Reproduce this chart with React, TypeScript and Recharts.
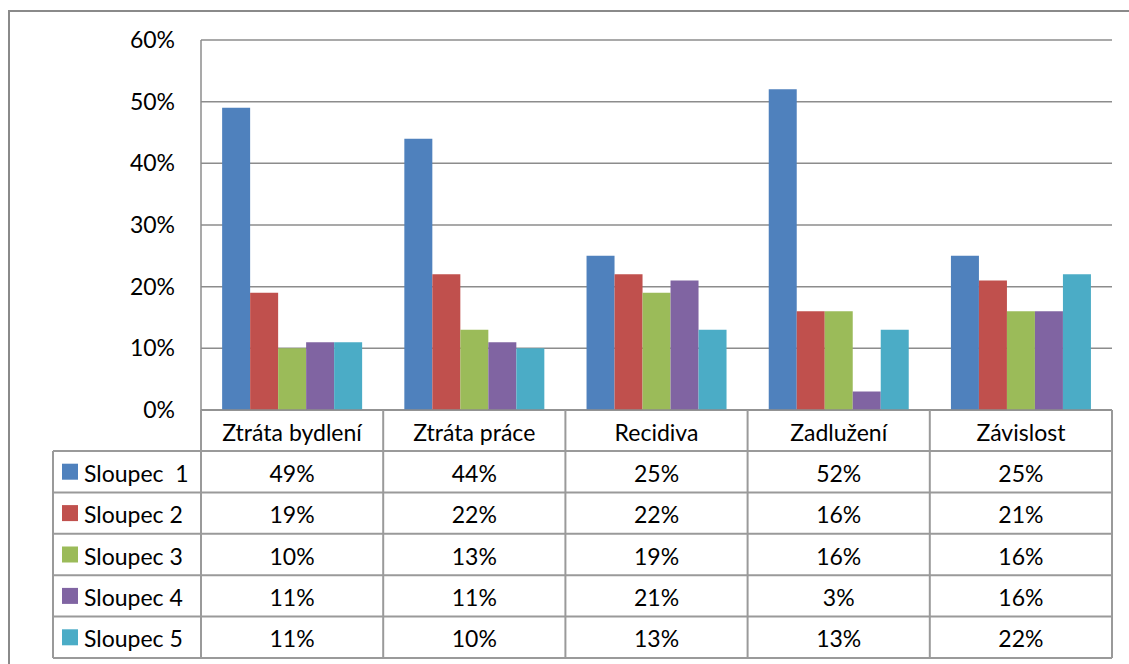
import { BarChart, Bar, XAxis, YAxis, CartesianGrid } from 'recharts'

const categories = ['Ztráta bydlení', 'Ztráta práce', 'Recidiva', 'Zadlužení', 'Závislost']
const seriesNames = ['Sloupec  1', 'Sloupec 2', 'Sloupec 3', 'Sloupec 4', 'Sloupec 5']
const sloupec1 = [49, 44, 25, 52, 25]
const sloupec2 = [19, 22, 22, 16, 21]
const sloupec3 = [10, 13, 19, 16, 16]
const sloupec4 = [11, 11, 21, 3, 16]
const sloupec5 = [11, 10, 13, 13, 22]
const yTicks = [0, 10, 20, 30, 40, 50, 60]

const colors = ['#4F81BD', '#C0504D', '#9BBB59', '#8064A2', '#4BACC6']
const allSeries = [sloupec1, sloupec2, sloupec3, sloupec4, sloupec5]
const keys = ['s1', 's2', 's3', 's4', 's5']

const data = categories.map((name, i) => {
  const row: Record<string, string | number> = { name }
  allSeries.forEach((s, k) => (row[keys[k]] = s[i]))
  return row
})

const W = 1119
const H = 652
const FONT = 'Lato, Carlito, Calibri, sans-serif'
const FS = 23
const plotLeft = 191
const plotRight = 1102
const plotTop = 28
const plotBottom = 398
const headerH = 41
const rowH = 41.4
const tableLeft = 43
const colW = (plotRight - plotLeft) / categories.length
const lineColor = '#9a9a9a'

const HeaderTick = (props: any) => {
  const { x, payload } = props
  return (
    <text x={x} y={plotBottom + headerH / 2 + 1} textAnchor="middle" dominantBaseline="central"
      fontFamily={FONT} fontSize={FS} fill="#000">
      {payload.value}
    </text>
  )
}

function DataTable() {
  const bodyTop = plotBottom + headerH
  const bodyBottom = bodyTop + rowH * seriesNames.length
  const lines = []
  // header verticals
  for (let i = 0; i <= categories.length; i++) {
    const x = plotLeft + i * colW
    lines.push(<line key={'hv' + i} x1={x} x2={x} y1={plotBottom} y2={bodyBottom} stroke={lineColor} strokeWidth={2} />)
  }
  lines.push(<line key="lv" x1={tableLeft} x2={tableLeft} y1={bodyTop} y2={bodyBottom} stroke={lineColor} strokeWidth={2} />)
  for (let r = 0; r <= seriesNames.length; r++) {
    const y = bodyTop + r * rowH
    lines.push(<line key={'h' + r} x1={tableLeft} x2={plotRight} y1={y} y2={y} stroke={lineColor} strokeWidth={2} />)
  }
  return (
    <svg width={W} height={H} style={{ position: 'absolute', left: 0, top: 0, pointerEvents: 'none' }}>
      {lines}
      {seriesNames.map((s, r) => {
        const cy = bodyTop + r * rowH + rowH / 2
        return (
          <g key={s}>
            <rect x={tableLeft + 9} y={cy - 8} width={16} height={16} fill={colors[r]} />
            <text x={tableLeft + 31} y={cy + 1} dominantBaseline="central" fontFamily={FONT} fontSize={FS}
              fill="#000" style={{ whiteSpace: 'pre' }}>
              {s}
            </text>
            {allSeries[r].map((v, c) => (
              <text key={c} x={plotLeft + c * colW + colW / 2} y={cy + 1} textAnchor="middle"
                dominantBaseline="central" fontFamily={FONT} fontSize={FS} fill="#000">
                {v}%
              </text>
            ))}
          </g>
        )
      })}
    </svg>
  )
}

export default function App() {
  return (
    <div>
      <style>{'body{margin:0;overflow:hidden;background:#fff}'}</style>
      <div style={{ position: 'absolute', left: 8, top: 10, width: W + 10, height: H + 10,
        borderLeft: '2px solid #8a8a8a', borderTop: '2px solid #8a8a8a' }}>
        <div style={{ position: 'relative', width: W, height: H }}>
          <BarChart width={W} height={H} data={data} barGap={0} barCategoryGap="11.6%"
            margin={{ top: plotTop, right: W - plotRight, left: plotLeft - 60, bottom: H - plotBottom - headerH }}>
            <CartesianGrid vertical={false} stroke="#8c8c8c" strokeWidth={1.5} />
            <XAxis dataKey="name" height={headerH} axisLine={{ stroke: '#8c8c8c', strokeWidth: 1.5 }}
              tickLine={false} tick={<HeaderTick />} interval={0} />
            <YAxis width={60} domain={[0, 60]} ticks={yTicks} interval={0} tickLine={false} tickSize={0}
              tickMargin={26} axisLine={{ stroke: '#8c8c8c', strokeWidth: 1.5 }}
              tickFormatter={(v) => `${v}%`}
              tick={{ fontFamily: FONT, fontSize: FS, fill: '#000' }} />
            {keys.map((k, i) => (
              <Bar key={k} dataKey={k} fill={colors[i]} isAnimationActive={false} />
            ))}
          </BarChart>
          <DataTable />
        </div>
      </div>
    </div>
  )
}
